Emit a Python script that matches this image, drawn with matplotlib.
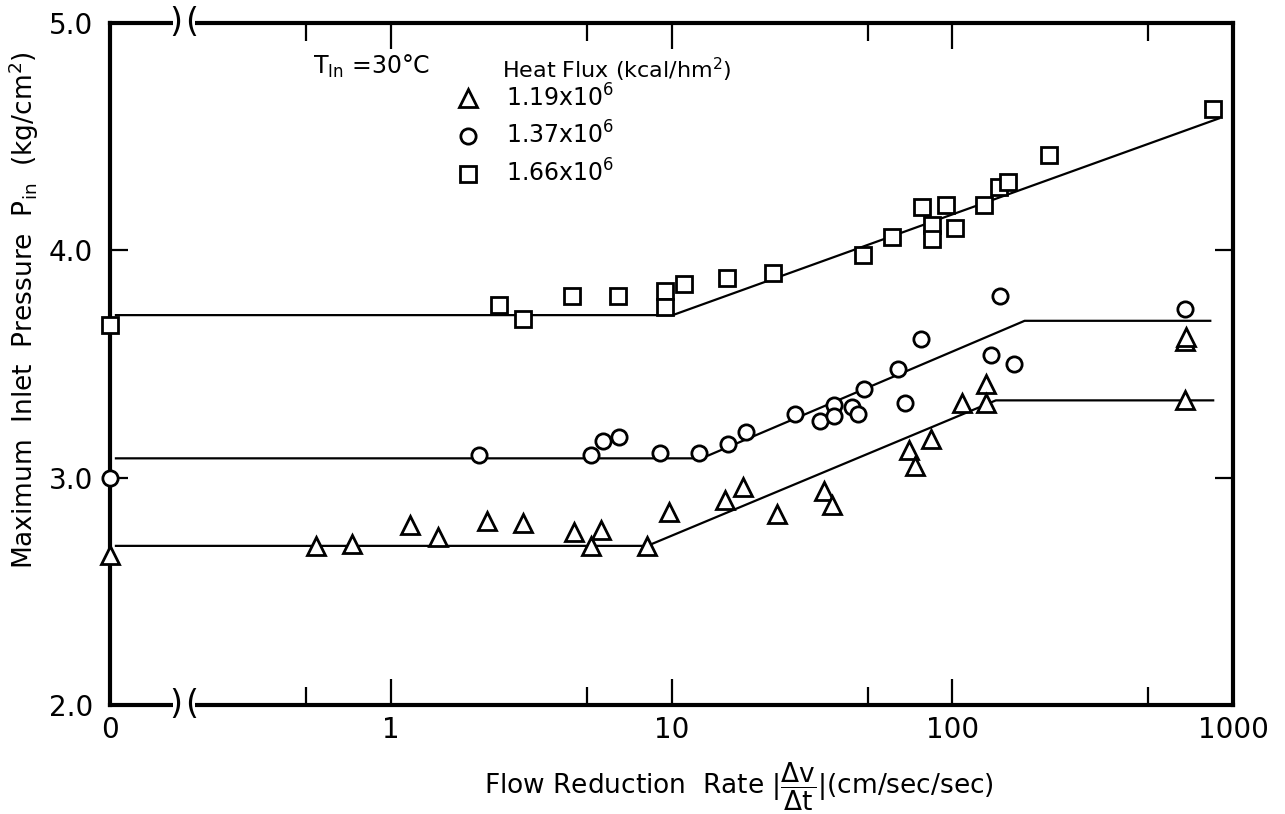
import matplotlib.pyplot as plt
import matplotlib.transforms as mtransforms
from matplotlib.patches import Rectangle
from matplotlib.ticker import FixedLocator, NullFormatter, FormatStrFormatter

# flow reduction rate (cm/sec/sec); 0.1 is the "0" position at the left axis
tri_x = [0.1, 0.54, 0.73, 1.17, 1.47, 2.21, 2.97, 4.48, 5.15, 5.6, 8.2, 9.8, 15.5,
         18.0, 23.8, 35.0, 37.3, 70.3, 73.8, 83.7, 108.7, 132, 132, 675, 675, 680]
tri_y = [2.66, 2.70, 2.71, 2.79, 2.74, 2.81, 2.80, 2.76, 2.70, 2.77, 2.70, 2.85, 2.90,
         2.96, 2.84, 2.94, 2.88, 3.12, 3.05, 3.17, 3.33, 3.41, 3.33, 3.34, 3.60, 3.62]

circ_x = [0.1, 2.06, 5.15, 5.7, 6.5, 9.1, 12.5, 15.9, 18.4, 27.5, 33.9, 38, 38, 43.9,
          46.3, 48.6, 64, 67.7, 77.3, 137.7, 147.5, 166, 677]
circ_y = [3.00, 3.10, 3.10, 3.16, 3.18, 3.11, 3.11, 3.15, 3.20, 3.28, 3.25, 3.32, 3.27,
          3.31, 3.28, 3.39, 3.48, 3.33, 3.61, 3.54, 3.80, 3.50, 3.74]

sq_x = [0.1, 2.42, 2.95, 4.41, 6.45, 9.5, 9.5, 11.1, 15.8, 23, 48, 61, 78, 85, 85, 95,
        102, 130, 147, 158, 221, 850]
sq_y = [3.67, 3.76, 3.70, 3.80, 3.80, 3.82, 3.75, 3.85, 3.88, 3.90, 3.98, 4.06, 4.19,
        4.11, 4.05, 4.20, 4.10, 4.20, 4.28, 4.30, 4.42, 4.62]

# hand-drawn fit lines
tri_fit_x = [0.105, 8.2, 143, 850]
tri_fit_y = [2.70, 2.70, 3.34, 3.34]
circ_fit_x = [0.105, 12.8, 181, 830]
circ_fit_y = [3.085, 3.085, 3.69, 3.69]
sq_fit_x = [0.105, 10.1, 890]
sq_fit_y = [3.715, 3.715, 4.58]

flux_labels = [r"1.19x10$^6$", r"1.37x10$^6$", r"1.66x10$^6$"]

x_ticks = [0.1, 1, 10, 100, 1000]
x_ticklabels = ["0", "1", "10", "100", "1000"]
x_minor = [0.5, 5, 50, 500]
y_ticks = [2.0, 3.0, 4.0, 5.0]

plt.rcParams["font.family"] = "DejaVu Sans"
plt.rcParams["mathtext.fontset"] = "dejavusans"

W, H = 1285, 814
fig = plt.figure(figsize=(W / 100, H / 100), dpi=100)
ax = fig.add_axes([110 / W, 109 / H, 1123 / W, 682 / H])

ax.set_xscale("log")
ax.set_xlim(0.1, 1000)
ax.set_ylim(2.0, 5.0)

for fx, fy in [(tri_fit_x, tri_fit_y), (circ_fit_x, circ_fit_y), (sq_fit_x, sq_fit_y)]:
    ax.plot(fx, fy, color="black", lw=1.6, zorder=2)

mk = dict(linestyle="none", markerfacecolor="white", markeredgecolor="black",
          markeredgewidth=2.0, zorder=3, clip_on=False)
h1, = ax.plot(tri_x, tri_y, marker="^", markersize=13, **mk)
h2, = ax.plot(circ_x, circ_y, marker="o", markersize=11, **mk)
h3, = ax.plot(sq_x, sq_y, marker="s", markersize=12, **mk)

for s in ax.spines.values():
    s.set_linewidth(3)

ax.xaxis.set_major_locator(FixedLocator(x_ticks))
ax.set_xticklabels(x_ticklabels)
ax.xaxis.set_minor_locator(FixedLocator(x_minor))
ax.xaxis.set_minor_formatter(NullFormatter())
ax.set_yticks(y_ticks)
ax.yaxis.set_major_formatter(FormatStrFormatter("%.1f"))
ax.tick_params(axis="x", which="major", direction="in", length=19, width=1.6,
               top=True, labelsize=20, pad=8)
ax.tick_params(axis="x", which="minor", direction="in", length=13, width=1.6, top=True)
ax.tick_params(axis="y", which="major", direction="in", length=13, width=1.6,
               right=True, labelsize=20, pad=12)

# axis break marks on top and bottom
brk = mtransforms.blended_transform_factory(ax.transData, ax.transAxes)
for yb in (0.0, 1.0):
    ax.add_patch(Rectangle((0.168, yb - 0.01), 0.032, 0.02, transform=brk,
                           facecolor="white", edgecolor="none", zorder=5, clip_on=False))
    ax.text(0.172, yb, ")", transform=brk, ha="center", va="center", fontsize=24,
            zorder=6)
    ax.text(0.196, yb, "(", transform=brk, ha="center", va="center", fontsize=24,
            zorder=6)

fig.text(313 / W, 1 - 66 / H, r"T$_{\mathrm{In}}$ =30°C", fontsize=17, va="center",
         ha="left")
fig.text(502 / W, 1 - 70 / H, r"Heat Flux (kcal/hm$^2$)", fontsize=16, va="center",
         ha="left")
ax.legend([h1, h2, h3], flux_labels, loc="upper left",
          bbox_to_anchor=(456 / W, 1 - 84 / H), bbox_transform=fig.transFigure,
          frameon=False, fontsize=17, handlelength=1.0, handletextpad=1.1,
          borderpad=0, labelspacing=0.45, borderaxespad=0)

fig.text(739 / W, 27 / H,
         r"Flow Reduction  Rate $|\dfrac{\Delta \mathrm{v}}{\Delta \mathrm{t}}|$(cm/sec/sec)",
         fontsize=19, ha="center", va="center")
fig.text(24 / W, 1 - 310 / H,
         r"Maximum  Inlet  Pressure  P$_{\mathrm{in}}$  (kg/cm$^2$)",
         fontsize=19, rotation=90, ha="center", va="center")

fig.savefig("out.png", dpi=100)
